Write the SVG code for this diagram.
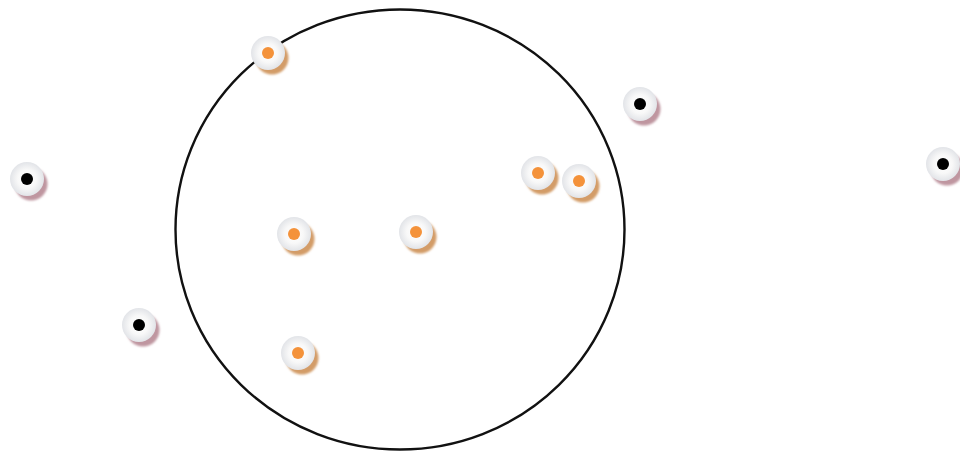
<svg xmlns="http://www.w3.org/2000/svg" width="960" height="452" viewBox="0 0 960 452">
<defs>
<radialGradient id="face" cx="50%" cy="50%" r="50%">
<stop offset="0" stop-color="#ffffff"/>
<stop offset="0.55" stop-color="#f8f8f8"/>
<stop offset="1" stop-color="#e2e4e8"/>
</radialGradient>
<filter id="blur" x="-30%" y="-30%" width="160%" height="160%"><feGaussianBlur stdDeviation="1.2"/></filter>
</defs>
<style>
.ring{fill:none;stroke:#111;stroke-width:2.4}
.face{fill:url(#face)}
.sh-in{fill:#d39c68;filter:url(#blur)}
.sh-out{fill:#bf96a0;filter:url(#blur)}
.dot-in{fill:#f4923a}
.dot-out{fill:#000}
</style>
<g id="connectors"></g>
<g id="region"><ellipse class="ring" cx="400" cy="229.5" rx="224.5" ry="220"/></g>
<g id="p1"><circle class="sh-in" cx="272" cy="58" r="16.5"/><circle class="face" cx="268" cy="53" r="17"/><circle class="dot-in" cx="268" cy="53" r="6"/></g>
<g id="p2"><circle class="sh-in" cx="298" cy="239" r="16.5"/><circle class="face" cx="294" cy="234" r="17"/><circle class="dot-in" cx="294" cy="234" r="6"/></g>
<g id="p3"><circle class="sh-in" cx="420" cy="237" r="16.5"/><circle class="face" cx="416" cy="232" r="17"/><circle class="dot-in" cx="416" cy="232" r="6"/></g>
<g id="p4"><circle class="sh-in" cx="542" cy="178" r="16.5"/><circle class="face" cx="538" cy="173" r="17"/><circle class="dot-in" cx="538" cy="173" r="6"/></g>
<g id="p5"><circle class="sh-in" cx="583" cy="186" r="16.5"/><circle class="face" cx="579" cy="181" r="17"/><circle class="dot-in" cx="579" cy="181" r="6"/></g>
<g id="p6"><circle class="sh-in" cx="302" cy="358" r="16.5"/><circle class="face" cx="298" cy="353" r="17"/><circle class="dot-in" cx="298" cy="353" r="6"/></g>
<g id="q1"><circle class="sh-out" cx="644" cy="109" r="16.5"/><circle class="face" cx="640" cy="104" r="17"/><circle class="dot-out" cx="640" cy="104" r="6"/></g>
<g id="q2"><circle class="sh-out" cx="31" cy="184" r="16.5"/><circle class="face" cx="27" cy="179" r="17"/><circle class="dot-out" cx="27" cy="179" r="6"/></g>
<g id="q3"><circle class="sh-out" cx="143" cy="330" r="16.5"/><circle class="face" cx="139" cy="325" r="17"/><circle class="dot-out" cx="139" cy="325" r="6"/></g>
<g id="q4"><circle class="sh-out" cx="947" cy="169" r="16.5"/><circle class="face" cx="943" cy="164" r="17"/><circle class="dot-out" cx="943" cy="164" r="6"/></g>
</svg>
